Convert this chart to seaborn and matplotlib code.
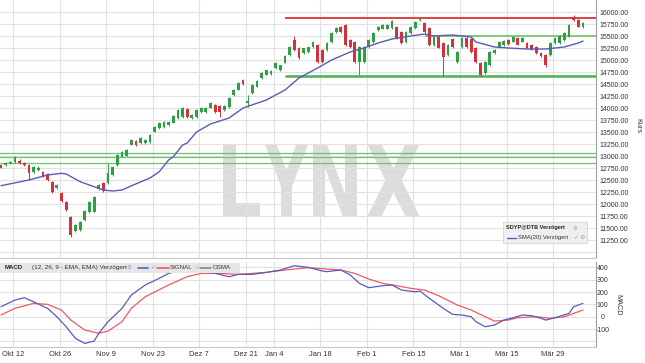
import numpy as np
import pandas as pd
import seaborn as sns
import matplotlib.pyplot as plt
from matplotlib.patches import PathPatch, Rectangle
from matplotlib.textpath import TextPath
from matplotlib.font_manager import FontProperties
from matplotlib.transforms import Affine2D

#----------------------------------------
# trading days (Eurex holidays dropped)
days = pd.bdate_range('2020-10-07', '2021-04-08')
holidays = pd.to_datetime(['2020-12-24', '2020-12-25', '2020-12-31',
                           '2021-01-01', '2021-04-02', '2021-04-05'])
days = days[~days.isin(holidays)]

tick_dates = ['2020-10-12', '2020-10-26', '2020-11-09', '2020-11-23', '2020-12-07',
              '2020-12-21', '2021-01-04', '2021-01-18', '2021-02-01', '2021-02-15',
              '2021-03-01', '2021-03-15', '2021-03-29']
tick_labels = ['Okt 12', 'Okt 26', 'Nov 9', 'Nov 23', 'Dez 7', 'Dez 21', 'Jan 4',
               'Jan 18', 'Feb 1', 'Feb 15', 'Mär 1', 'Mär 15', 'Mär 29']

opens = [12810, 12810, 12850, 12875, 12900, 12855, 12810, 12665, 12700, 12670,
         12625, 12460, 12340, 12230, 12040, 11730, 11440, 11460, 11665, 11835,
         11840, 12310, 12440, 12440, 12605, 12815, 12980, 13000, 13230, 13315,
         13270, 13270, 13290, 13500, 13585, 13605, 13645, 13690, 13790, 13815,
         13980, 13790, 13815, 13915, 13920, 14000, 14065, 14040, 13960, 14020,
         14270, 14375, 14585, 14105, 14315, 14440, 14625, 14690, 14700, 14835,
         14790, 14940, 15105, 15415, 15250, 15145, 15165, 15270, 15315, 15210,
         15210, 15375, 15585, 15680, 15730, 15420, 15375, 14960, 14960, 15270,
         15375, 15625, 15650, 15650, 15665, 15690, 15585, 15375, 15565, 15665,
         15830, 15770, 15665, 15315, 15480, 15355, 15105, 15440, 14960, 15270,
         15460, 15440, 15250, 14940, 14730, 14895, 15145, 15250, 15320, 15420,
         15380, 15460, 15380, 15355, 15310, 15270, 15150, 15105, 15105, 15355,
         15355, 15420, 15480, 15900, 15835, 15690]
highs = [12840, 12870, 12890, 12990, 12930, 12880, 12830, 12790, 12790, 12690,
         12640, 12480, 12420, 12250, 12060, 11750, 11580, 11640, 11870, 12060,
         12160, 12410, 12460, 12855, 12790, 13040, 13100, 13140, 13350, 13340,
         13390, 13350, 13450, 13620, 13700, 13720, 13720, 13850, 13970, 14020,
         14000, 13870, 13970, 14020, 14015, 14120, 14080, 14060, 14060, 14225,
         14390, 14540, 14600, 14270, 14490, 14580, 14745, 14800, 14800, 14950,
         14900, 15100, 15290, 15500, 15270, 15260, 15280, 15390, 15330, 15230,
         15370, 15580, 15680, 15700, 15760, 15440, 15390, 15290, 15290, 15430,
         15580, 15700, 15740, 15740, 15830, 15710, 15600, 15600, 15700, 15810,
         15880, 15790, 15690, 15490, 15500, 15370, 15330, 15460, 15180, 15470,
         15480, 15460, 15270, 14960, 14970, 15180, 15220, 15390, 15410, 15440,
         15490, 15480, 15470, 15370, 15330, 15290, 15170, 15120, 15370, 15470,
         15520, 15580, 15745, 15940, 15850, 15800]
lows = [12740, 12800, 12835, 12860, 12840, 12800, 12500, 12650, 12680, 12570,
        12480, 12230, 12320, 12040, 11860, 11310, 11420, 11440, 11650, 11820,
        11830, 12300, 12260, 12420, 12590, 12800, 12970, 12990, 13220, 13210,
        13260, 13260, 13280, 13490, 13570, 13590, 13630, 13680, 13780, 13800,
        13800, 13780, 13800, 13900, 13905, 13990, 13900, 13810, 13945, 14010,
        14260, 14365, 14480, 14020, 14300, 14430, 14610, 14680, 14690, 14820,
        14780, 14930, 15090, 15190, 15030, 15130, 15150, 15260, 14940, 14940,
        15190, 15360, 15570, 15560, 15300, 15260, 14940, 14690, 14940, 15260,
        15360, 15610, 15640, 15640, 15650, 15440, 15340, 15360, 15550, 15650,
        15810, 15570, 15300, 15300, 15240, 14665, 15090, 15260, 14940, 15260,
        15260, 15150, 14940, 14670, 14710, 14880, 15130, 15240, 15300, 15310,
        15370, 15310, 15370, 15240, 15200, 15130, 15060, 14855, 15090, 15340,
        15340, 15400, 15470, 15820, 15680, 15670]
closes = [12750, 12855, 12875, 12960, 12855, 12810, 12645, 12770, 12760, 12585,
          12500, 12250, 12400, 12065, 11875, 11355, 11565, 11625, 11855, 12040,
          12145, 12395, 12270, 12645, 12770, 13020, 13085, 13125, 13335, 13230,
          13375, 13335, 13440, 13605, 13690, 13710, 13710, 13835, 13960, 14000,
          13815, 13855, 13960, 14000, 14000, 14105, 13915, 13915, 14040, 14210,
          14375, 14520, 14500, 14145, 14480, 14565, 14730, 14790, 14780, 14940,
          14890, 15085, 15270, 15210, 15045, 15250, 15270, 15375, 14960, 14960,
          15355, 15565, 15665, 15585, 15315, 15270, 14960, 15270, 15270, 15415,
          15565, 15690, 15730, 15730, 15815, 15460, 15355, 15585, 15690, 15790,
          15860, 15585, 15315, 15480, 15250, 15065, 15315, 15270, 15165, 15460,
          15270, 15165, 14960, 14690, 14960, 15165, 15210, 15375, 15395, 15330,
          15475, 15320, 15460, 15250, 15210, 15150, 15080, 14895, 15355, 15460,
          15500, 15565, 15730, 15835, 15690, 15770]

# SMA(20) (trading-day index, value)
sma_idx = [0, 6, 10, 13, 14, 17, 20, 22, 24, 26, 29, 32, 34, 36, 37, 39, 40, 42, 45,
           49, 52, 57, 61, 64, 68, 71, 75, 78, 81, 84, 88, 91, 93, 97, 101, 102, 106,
           109, 113, 117, 121, 124, 125]
sma_val = [12381, 12500, 12604, 12640, 12625, 12465, 12360, 12292, 12271, 12292,
           12420, 12542, 12673, 12917, 12985, 13229, 13271, 13500, 13667, 13792,
           14000, 14167, 14375, 14625, 14833, 15000, 15167, 15250, 15354, 15438,
           15500, 15542, 15500, 15521, 15479, 15375, 15271, 15250, 15229, 15229,
           15271, 15354, 15396]

macd_idx = [0, 3, 5, 7, 10, 12, 14, 16, 18, 20, 21, 23, 26, 28, 31, 34, 36, 39, 43,
            46, 49, 51, 54, 57, 60, 63, 66, 69, 70, 73, 75, 77, 79, 82, 84, 86, 89,
            90, 92, 95, 97, 99, 101, 102, 104, 106, 108, 110, 112, 114, 116, 117,
            119, 122, 123, 125]
macd_val = [81, 135, 154, 121, 68, 0, -81, -175, -216, -197, -134, -40, 68, 176, 257,
            311, 351, 378, 370, 351, 324, 343, 343, 359, 378, 413, 400, 370, 365, 378,
            338, 270, 235, 251, 257, 216, 202, 208, 149, 68, 19, 14, 0, -40, -81, -67,
            -27, -8, 14, 8, -13, -27, -8, 27, 81, 108]
signal_idx = [0, 3, 7, 10, 13, 15, 18, 21, 23, 26, 28, 31, 36, 40, 43, 47, 51, 57, 61,
              66, 70, 73, 76, 79, 82, 85, 88, 91, 94, 98, 101, 104, 106, 109, 111, 115,
              118, 121, 123, 125]
signal_val = [14, 68, 108, 100, 54, -27, -108, -134, -116, -40, 68, 162, 257, 324, 351,
              351, 343, 359, 378, 397, 386, 378, 351, 305, 270, 251, 230, 216, 170, 95,
              54, 0, -35, -27, -8, 0, -13, 0, 27, 54]

# support / resistance lines: (level, start index)
resist_red = (15875, 61)
green_upper = (15500, 91)
green_lower = (14675, 61)
green_old = [13055, 12985, 12845]

kurs_ticks = list(range(11000, 16001, 250))
macd_ticks = [-200, -100, 0, 100, 200, 300, 400]
#----------------------------------------

W, H = 645, 363
GREEN = '#2ea043'
RED = '#d6303a'
BLUE = '#5b5bb5'
SIG = '#ee5a64'
GRID = '#e2e2e2'
TXT = '#333333'

sns.set_theme(style='white')
plt.rcParams['font.family'] = ['Liberation Sans', 'DejaVu Sans']


def fx(px):
    return px / W


def fy(py):
    return 1 - py / H


fig = plt.figure(figsize=(W / 100, H / 100), dpi=100, facecolor='white')
ax = fig.add_axes([0, fy(258), fx(596), fy(0) - fy(258)])
ax2 = fig.add_axes([0, fy(347), fx(596), fy(262) - fy(347)], sharex=ax)
for a in (ax, ax2):
    a.set_facecolor('none')
    for s in ('left', 'top'):
        a.spines[s].set_visible(False)
    a.spines['right'].set_color('#a0a0a0')
    a.spines['bottom'].set_color('#c8c8c8')
    for s in ('right', 'bottom'):
        a.spines[s].set_linewidth(0.8)

tick_pos = [days.get_loc(pd.Timestamp(d)) - 0.4 for d in tick_dates]

# ---- candles
df = pd.DataFrame({'o': opens, 'h': highs, 'l': lows, 'c': closes})
df['x'] = np.arange(len(df))
cols = np.where(df.c >= df.o, GREEN, RED)
ax.vlines(df.x, df.l, df.h, colors=cols, lw=0.7, zorder=3)
body = (df.c - df.o).abs().clip(lower=10)
ax.bar(df.x, body, bottom=df[['o', 'c']].min(axis=1), width=0.6, color=cols,
       lw=0, zorder=4)

sns.lineplot(x=sma_idx, y=sma_val, ax=ax, color=BLUE, lw=1.0, zorder=5)

ax.hlines(resist_red[0], resist_red[1], 128, color='#e04040', lw=1.4, zorder=2)
ax.hlines(green_upper[0], green_upper[1], 128, color='#6cc46c', lw=1.2, zorder=2)
ax.hlines(green_lower[0], green_lower[1], 128, color='#4cb04c', lw=1.8, zorder=2)
for lvl in green_old:
    ax.axhline(lvl, color='#6cc46c', lw=0.9, zorder=2)

ax.set_xlim(-0.215, 127.8)
ax.set_ylim(10875, 16250)
ax.yaxis.tick_right()
ax.set_yticks(kurs_ticks)
ax.set_yticklabels(['' if v < 11250 else f'{v:.2f}' for v in kurs_ticks])
ax.tick_params(axis='y', length=0, pad=2.2, labelsize=5, labelcolor=TXT)
ax.set_xticks(tick_pos)
ax.tick_params(axis='x', length=0, labelbottom=False)
ax.grid(True, color=GRID, lw=0.8, zorder=0)
ax.set_xlabel('')
ax.set_ylabel('')

# ---- MACD panel
sns.lineplot(x=signal_idx, y=signal_val, ax=ax2, color=SIG, lw=0.9, zorder=4)
sns.lineplot(x=macd_idx, y=macd_val, ax=ax2, color=BLUE, lw=0.9, zorder=5)
ax2.set_ylim(-245, 443)
ax2.yaxis.tick_right()
ax2.set_yticks(macd_ticks)
ax2.set_yticklabels(['' if v < -100 else str(v) for v in macd_ticks])
for lab in ax2.get_yticklabels():
    lab.set_horizontalalignment('center')
ax2.tick_params(axis='y', length=0, pad=4.5, labelsize=5, labelcolor=TXT)
ax2.set_xticks(tick_pos)
ax2.set_xticklabels(tick_labels)
ax2.tick_params(axis='x', length=0, pad=3, labelsize=5.4, labelcolor=TXT)
ax2.grid(True, color=GRID, lw=0.8, zorder=0)
ax2.set_xlabel('')
ax2.set_ylabel('')

fig.text(fx(638), fy(125), 'Kurs', rotation=270, fontsize=5.2, color=TXT,
         ha='center', va='center')
fig.text(fx(618), fy(305), 'MACD', rotation=270, fontsize=5.2, color=TXT,
         ha='center', va='center')

# ---- LYNX watermark, each letter stretched into its box
fp = FontProperties(family='DejaVu Sans', weight='bold')
letters = [('L', 223, 260), ('Y', 265, 308), ('N', 313, 357), ('X', 367, 420)]
for ch, x0, x1 in letters:
    tp = TextPath((0, 0), ch, size=1, prop=fp)
    ext = tp.get_extents()
    tr = (Affine2D().translate(-ext.x0, -ext.y0)
          .scale((x1 - x0) / W / ext.width, (217 - 145) / H / ext.height)
          .translate(fx(x0), fy(217)) + fig.transFigure)
    fig.add_artist(PathPatch(tp, transform=tr, facecolor='#dcdcdc', lw=0, zorder=-1))

# ---- legend box in price panel
fig.add_artist(Rectangle((fx(503), fy(243)), fx(84), 21 / H, transform=fig.transFigure,
                         facecolor='#efefef', edgecolor='#d0d0d0', lw=0.5, zorder=6))
fig.text(fx(506), fy(228), 'SDYP@DTB Verzögert', fontsize=4.0, weight='bold',
         color='#222222', va='center', zorder=7)
fig.text(fx(573), fy(228), '\u2699', fontsize=4, color='#7a9ac8', va='center',
         family='DejaVu Sans', zorder=7)
fig.add_artist(plt.Line2D([fx(507), fx(516)], [fy(237.5)] * 2, color=BLUE, lw=1,
                          transform=fig.transFigure, zorder=7))
fig.text(fx(518), fy(237.5), 'SMA(20) Verzögert', fontsize=4.2, color='#333333',
         va='center', zorder=7)
fig.text(fx(574), fy(237.5), '\u2713 \u2699', fontsize=4, color='#7a9ac8',
         va='center', family='DejaVu Sans', zorder=7)

# ---- MACD header bar
fig.add_artist(Rectangle((0, fy(272.5)), fx(240), 10 / H, transform=fig.transFigure,
                         facecolor='#e6e6e6', edgecolor='none', zorder=6))
hy = fy(267.5)
fig.text(fx(5), hy, 'MACD', fontsize=4.4, weight='bold', color='#222222',
         va='center', zorder=7)
fig.text(fx(32), hy, '(12, 26, 9 - EMA, EMA) Verzögert', fontsize=4.6,
         color='#333333', va='center', zorder=7)
fig.text(fx(127), hy, '\u2699', fontsize=4, color='#7a9ac8', va='center',
         family='DejaVu Sans', zorder=7)
fig.add_artist(plt.Line2D([fx(138), fx(148)], [hy] * 2, color=BLUE, lw=1.2,
                          transform=fig.transFigure, zorder=7))
fig.text(fx(150), hy, '\u2713', fontsize=4, color='#7a9ac8', va='center',
         family='DejaVu Sans', zorder=7)
fig.add_artist(plt.Line2D([fx(157), fx(169)], [hy] * 2, color=SIG, lw=1.2,
                          transform=fig.transFigure, zorder=7))
fig.text(fx(170), hy, 'SIGNAL', fontsize=4.4, color='#333333', va='center', zorder=7)
fig.text(fx(194), hy, '\u2713', fontsize=4, color='#7a9ac8', va='center',
         family='DejaVu Sans', zorder=7)
fig.add_artist(plt.Line2D([fx(200), fx(211)], [hy] * 2, color='#888888', lw=1.2,
                          transform=fig.transFigure, zorder=7))
fig.text(fx(213), hy, 'OSMA', fontsize=4.4, color='#333333', va='center', zorder=7)

fig.savefig('out.png', dpi=100, facecolor='white')
